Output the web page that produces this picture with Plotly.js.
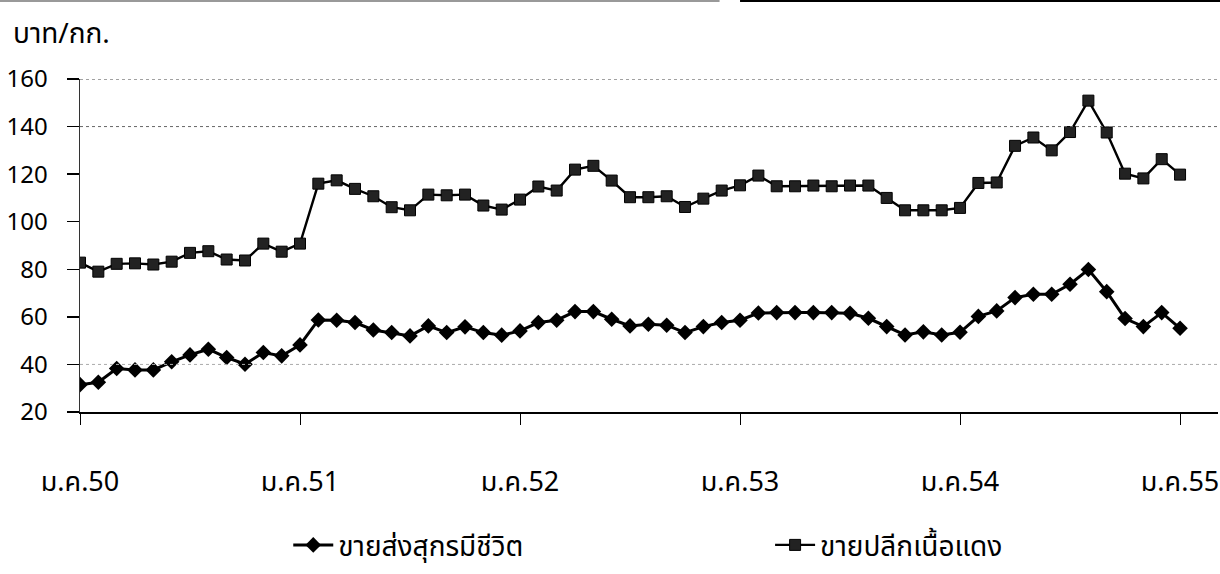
<!DOCTYPE html>
<html>
<head>
<meta charset="utf-8">
<script src="https://cdn.plot.ly/plotly-3.0.1.min.js"></script>
<style>html,body{margin:0;padding:0;background:#fff;}#chart{width:1220px;height:574px;}</style>
</head>
<body>
<div id="chart"></div>
<script>
// Monthly prices, ม.ค.50 (Jan 2007) .. ม.ค.55 (Jan 2012), บาท/กก.
const wholesaleName = "ขายส่งสุกรมีชีวิต";
const retailName = "ขายปลีกเนื้อแดง";
const wholesale = [31.5,32.5,38.3,37.7,37.7,41.1,44.0,46.4,42.9,40.1,45.0,43.6,
  48.2,58.7,58.6,57.6,54.5,53.4,52.0,56.2,53.4,55.8,53.4,52.3,
  54.1,57.6,58.6,62.2,62.2,59.0,56.2,56.9,56.5,53.4,55.9,57.6,
  58.6,61.6,61.8,61.8,61.8,61.8,61.5,59.4,55.9,52.4,53.7,52.4,
  53.5,60.2,62.5,68.1,69.5,69.5,73.7,79.9,70.6,59.3,55.9,61.8,55.2];
const retail = [82.8,79.0,82.3,82.5,82.0,83.2,86.9,87.6,84.1,83.7,90.8,87.4,
  90.8,116.0,117.4,113.8,110.7,106.1,104.8,111.4,111.1,111.4,106.8,105.1,
  109.3,114.8,113.1,121.9,123.5,117.3,110.3,110.3,110.7,106.2,109.7,113.1,
  115.3,119.4,114.9,114.9,115.2,114.9,115.2,115.2,110.0,104.8,104.8,104.8,
  105.8,116.3,116.5,131.9,135.4,130.0,137.7,150.9,137.5,120.2,118.2,126.3,119.8];
const tickMonths = [0,12,24,36,48,60];
const tickLabels = ["ม.ค.50","ม.ค.51","ม.ค.52","ม.ค.53","ม.ค.54","ม.ค.55"];
const yTicks = [20,40,60,80,100,120,140,160];
const yUnit = "บาท/กก.";

const xs = wholesale.map((_, i) => i);
const FONT = "Tahoma, 'Noto Sans Thai', 'Loma', 'Garuda', 'DejaVu Sans', sans-serif";

const traces = [
  {x: xs, y: wholesale, name: wholesaleName, type: "scatter", mode: "lines+markers",
   legend: "legend",
   line: {color: "#000", width: 3},
   marker: {symbol: "diamond", size: 12, color: "#000"}},
  {x: xs, y: retail, name: retailName, type: "scatter", mode: "lines+markers",
   legend: "legend2",
   line: {color: "#000", width: 2.4},
   marker: {symbol: "square", size: 11, color: "#222", line: {color: "#000", width: 1}}}
];

const legendBase = {orientation: "h", xanchor: "left", yanchor: "middle", y: -0.4,
  font: {size: 28}, itemwidth: 40, bgcolor: "rgba(0,0,0,0)", borderwidth: 0};

const layout = {
  width: 1220, height: 574,
  margin: {l: 80, r: 2, t: 79, b: 162, autoexpand: false},
  paper_bgcolor: "#fff", plot_bgcolor: "#fff",
  font: {family: FONT, size: 22, color: "#000"},
  showlegend: true,
  legend: Object.assign({}, legendBase, {x: 0.183}),
  legend2: Object.assign({}, legendBase, {x: 0.6064}),
  xaxis: {range: [0, 62.07], tickmode: "array", tickvals: tickMonths, ticktext: tickLabels,
    showgrid: false, zeroline: false, showline: true, linecolor: "#000", linewidth: 2,
    ticks: "outside", ticklen: 11, tickwidth: 1, tickcolor: "#000",
    ticklabelstandoff: 34, tickfont: {size: 27}},
  yaxis: {range: [20, 160], tickmode: "array", tickvals: yTicks,
    showgrid: false, zeroline: false, showline: true, linecolor: "#333", linewidth: 1.5,
    ticks: "outside", ticklen: 12, tickwidth: 1.5, tickcolor: "#000",
    ticklabelstandoff: 14, tickfont: {size: 24}},
  annotations: [
    {text: yUnit, xref: "paper", yref: "paper", x: -0.061, y: 1.135, xanchor: "left", yanchor: "middle",
     showarrow: false, font: {size: 28}}
  ],
  shapes: [
    {type: "line", xref: "paper", yref: "y", x0: 0, x1: 1, y0: 160, y1: 160, line: {color: "#444", width: 1, dash: "dot"}},
    {type: "line", xref: "paper", yref: "y", x0: 0, x1: 1, y0: 140, y1: 140, line: {color: "#666", width: 1, dash: "dot"}},
    {type: "line", xref: "paper", yref: "y", x0: 0, x1: 1, y0: 40, y1: 40, line: {color: "#aaa", width: 1, dash: "dot"}},
    {type: "line", xref: "paper", yref: "paper", x0: -0.0703, x1: 0.562, y0: 1.2345, y1: 1.2345, line: {color: "#999", width: 2}},
    {type: "line", xref: "paper", yref: "paper", x0: 0.58, x1: 1.002, y0: 1.2345, y1: 1.2345, line: {color: "#000", width: 2}}
  ]
};

Plotly.newPlot("chart", traces, layout, {displayModeBar: false, staticPlot: true});
</script>
</body>
</html>
